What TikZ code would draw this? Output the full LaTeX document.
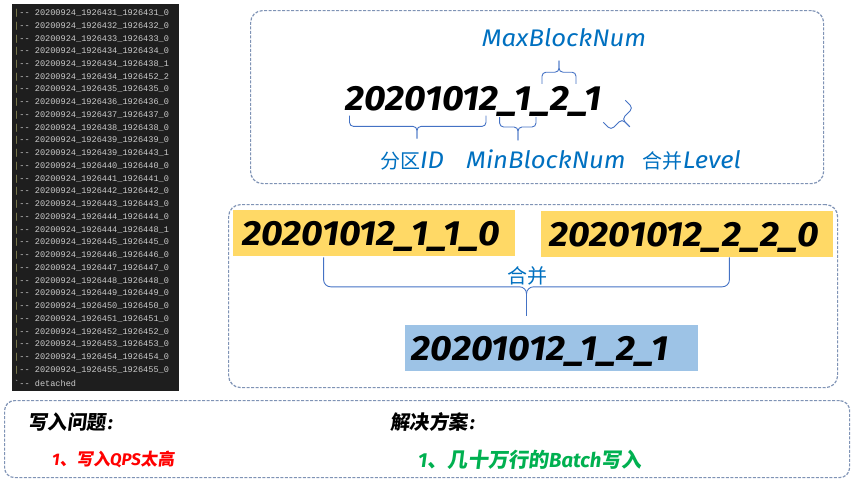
\documentclass[tikz,border=0pt]{standalone}
\usepackage{fontspec}
\setmainfont{Fira Sans}
\setmonofont{Liberation Mono}
\newfontfamily\numfont{Fira Sans}[FakeStretch=1.07]
\newfontfamily\cjk{Noto Sans CJK SC}
\newfontfamily\cjks{Noto Sans CJK SC}[FakeSlant=0.12]
\definecolor{termbg}{HTML}{1E1E1E}
\definecolor{termfg}{HTML}{CCCCCC}
\definecolor{guide}{HTML}{9C9A5C}
\definecolor{dashc}{HTML}{7F93B5}
\definecolor{lblue}{HTML}{0070C0}
\definecolor{braceblue}{HTML}{4472C4}
\definecolor{gold}{HTML}{FFD966}
\definecolor{skyb}{HTML}{9DC3E6}
\definecolor{okgreen}{HTML}{00B050}
\begin{document}
\begin{tikzpicture}[x=1pt,y=-1pt,
  dashbox/.style={draw=dashc, line width=1.2pt, dash pattern=on 3pt off 1.5pt, rounded corners=12pt, inner sep=0pt},
  termline/.style={anchor=west, inner sep=0pt, text=termfg, font=\ttfamily\fontsize{8.6}{8.6}\selectfont},
  bigtext/.style={inner sep=0pt, font=\numfont\bfseries\itshape\fontsize{35}{35}\selectfont},
  numbox/.style={bigtext, anchor=north west, minimum height=46pt, text height=24pt, text depth=0pt, inner ysep=0pt, align=left},
  lbl/.style={inner sep=0pt, text=lblue, font=\numfont\itshape\fontsize{24}{24}\selectfont},
  cjklbl/.style={inner sep=0pt, text=lblue, font=\cjk\fontsize{20}{20}\selectfont},
  bracket/.style={draw=braceblue, line width=0.9pt, rounded corners=4pt},
  heading/.style={anchor=west, inner sep=0pt, font=\fontsize{19.5}{19.5}\selectfont},
  item/.style={anchor=west, inner sep=0pt}
]
\useasboundingbox (0,0) rectangle (853,480);

% terminal listing
\node[fill=termbg, anchor=north west, inner sep=0pt, minimum width=167pt, minimum height=387pt] (term) at (12,4) {};
\foreach \p/\q/\r [count=\i from 0] in {431/431/0,432/432/0,433/433/0,434/434/0,434/438/1,434/452/2,435/435/0,436/436/0,437/437/0,438/438/0,439/439/0,439/443/1,440/440/0,441/441/0,442/442/0,443/443/0,444/444/0,444/448/1,445/445/0,446/446/0,447/447/0,448/448/0,449/449/0,450/450/0,451/451/0,452/452/0,453/453/0,454/454/0,455/455/0}
  \node[termline] (tl\i) at (14,{13.3+12.74*\i}) {{\color{guide}|}-{}- 20200924\_1926\p\_1926\q\_\r};
\node[termline] (tdet) at (14,383) {\symbol{96}-{}- detached};

% top box: naming scheme
\node[dashbox, anchor=north west, minimum width=573pt, minimum height=173pt] (topbox) at (250,10) {};
\node[lbl] (maxl) at (564,37.5) {MaxBlockNum};
\node[bigtext, anchor=base west] (code) at (345,110.5) {20201012\_1\_2\_1};
\node[lbl, anchor=base] (pid) at (412,168) {{\cjk\fontsize{20}{20}\selectfont 分区}ID};
\node[lbl, anchor=base] (minl) at (546,168) {MinBlockNum};
\node[lbl, anchor=base] (lvl) at (692,168) {{\cjk\fontsize{20}{20}\selectfont 合并}Level};
\draw[bracket] (349.5,115.5) |- (417,126.4) -- (417,138.7);
\draw[bracket] (486,115.5) |- (417,126.4) -- (417,138.7);
\draw[bracket] (499.6,117) |- (518,127) -- (518,140.4);
\draw[bracket] (536,117) |- (518,127) -- (518,140.4);
\draw[bracket] (542,83.9) |- (559,72.2) -- (559,60.6);
\draw[bracket] (576,83.9) |- (559,72.2) -- (559,60.6);
\draw[bracket] (625.3,100.2) -- (633,108) -- (622,119) -- (629.8,126.8);
\draw[bracket] (603.2,122.3) -- (611,130) -- (622,119) -- (629.8,126.8);

% middle box: merge
\node[dashbox, anchor=north west, minimum width=609pt, minimum height=183pt] (midbox) at (228,204) {};
\node[numbox, fill=gold, inner xsep=9pt, text width=264pt] (ya) at (233,210) {20201012\_1\_1\_0};
\node[numbox, fill=gold, inner xsep=8.5pt, text width=275pt] (yb) at (540.6,211) {20201012\_2\_2\_0};
\node[numbox, fill=skyb, inner xsep=7pt, text width=279pt] (bc) at (404.7,325.2) {20201012\_1\_2\_1};
\coordinate (la) at (323.6,257.4);
\coordinate (ra) at (729.4,257.4);
\coordinate (mid) at (526.5,286.8);
\coordinate (tip) at (526.5,315.9);
\draw[bracket, rounded corners=7pt] (la) |- (mid) -- (tip);
\draw[bracket, rounded corners=7pt] (ra) |- (mid) -- (tip);
\node[cjklbl] (merge) at (527,276) {合并};

% bottom box
\node[dashbox, rounded corners=10pt, anchor=north west, minimum width=845pt, minimum height=77pt] (botbox) at (4,400) {};
\node[heading] (wq) at (28,422) {{\cjks\bfseries 写入问题}\kern2pt{\bfseries\itshape :}};
\node[heading] (js) at (390,422) {{\cjks\bfseries 解决方案}\kern2pt{\bfseries\itshape :}};
\node[item, text=red, font=\fontsize{16.8}{16.8}\selectfont] (q1) at (52,459) {{\bfseries\itshape 1}{\cjks\bfseries 、写入}{\bfseries\itshape QPS}{\cjks\bfseries 太高}};
\node[item, text=okgreen, font=\fontsize{20.3}{20.3}\selectfont] (s1) at (418,460) {{\bfseries\itshape 1}{\cjks\bfseries 、几十万行的}{\bfseries\itshape Batch}{\cjks\bfseries 写入}};
\end{tikzpicture}
\end{document}
